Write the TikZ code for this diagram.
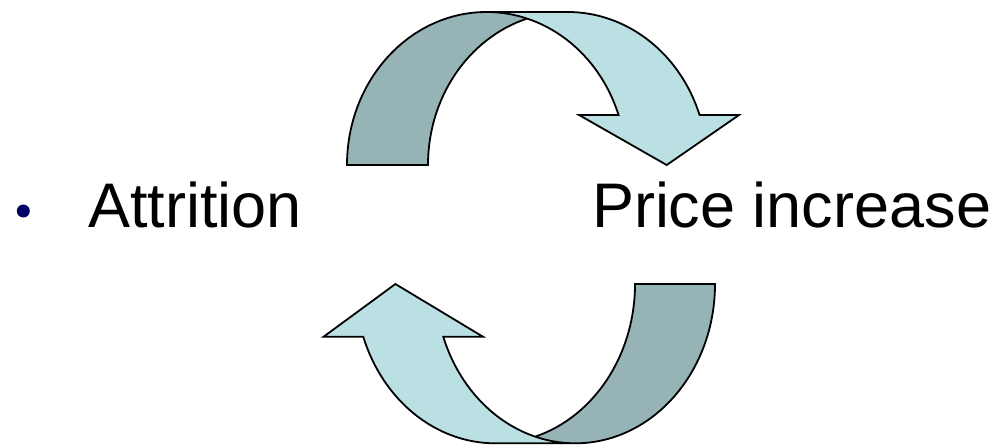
\documentclass[tikz,border=0pt]{standalone}
\usepackage{fontspec}
\setmainfont{Liberation Sans}
\definecolor{bandlight}{RGB}{187,224,227}
\definecolor{banddark}{RGB}{150,179,182}
\definecolor{bulletnavy}{RGB}{0,0,102}

% Curved block arrow: two equal ellipses shifted sideways by the band width.
% #1 scope options, #2 ellipse x radius, #3 band width, #4 head width,
% #5 height, #6 head length
\newcommand{\drawbentarrow}[6]{%
  \begin{scope}[#1]
    \pgfmathsetmacro{\ArWR}{#2}
    \pgfmathsetmacro{\ArTh}{#3}
    \pgfmathsetmacro{\ArAw}{#4}
    \pgfmathsetmacro{\ArH}{#5}
    \pgfmathsetmacro{\ArAh}{#6}
    \pgfmathsetmacro{\ArTa}{asin(\ArAh/\ArH)}
    \pgfmathsetmacro{\ArTc}{acos(\ArTh/(2*\ArWR))}
    \pgfmathsetmacro{\ArDx}{\ArWR*cos(\ArTa)}
    \pgfmathsetmacro{\ArXfive}{\ArWR+\ArDx}
    \pgfmathsetmacro{\ArXseven}{\ArWR+\ArTh+\ArDx}
    \pgfmathsetmacro{\ArDh}{(\ArAw-\ArTh)/2}
    \pgfmathsetmacro{\ArXfour}{\ArXfive-\ArDh}
    \pgfmathsetmacro{\ArXeight}{\ArXseven+\ArDh}
    \pgfmathsetmacro{\ArXsix}{2*\ArWR+\ArTh/2}
    \pgfmathsetmacro{\ArXc}{\ArWR+\ArTh/2}
    \pgfmathsetmacro{\ArYc}{\ArH*sin(\ArTc)}
    % front band with the head
    \fill[bandlight] (\ArXsix,0) -- (\ArXfour,\ArAh) -- (\ArXfive,\ArAh)
      arc[start angle=\ArTa, end angle=90, x radius=\ArWR, y radius=\ArH]
      -- (\ArWR+\ArTh,\ArH)
      arc[start angle=90, end angle=\ArTa, x radius=\ArWR, y radius=\ArH]
      -- (\ArXeight,\ArAh) -- cycle;
    % back band (foot)
    \fill[banddark] (\ArXc,\ArYc)
      arc[start angle=180-\ArTc, end angle=180, x radius=\ArWR, y radius=\ArH]
      -- (0,0)
      arc[start angle=180, end angle=\ArTc, x radius=\ArWR, y radius=\ArH]
      -- cycle;
    % outline
    \draw[outline] (\ArXc,\ArYc)
      arc[start angle=180-\ArTc, end angle=180, x radius=\ArWR, y radius=\ArH]
      -- (0,0)
      arc[start angle=180, end angle=\ArTa, x radius=\ArWR, y radius=\ArH]
      -- (\ArXfour,\ArAh) -- (\ArXsix,0) -- (\ArXeight,\ArAh) -- (\ArXseven,\ArAh)
      arc[start angle=\ArTa, end angle=90, x radius=\ArWR, y radius=\ArH]
      -- (\ArWR,\ArH);
  \end{scope}}

\begin{document}
\begin{tikzpicture}[x=1pt, y=1pt,
  outline/.style={draw=black, line width=1.8pt, line join=miter},
  lbl/.style={inner sep=0pt, outer sep=0pt, font=\fontsize{63}{75}\selectfont}]
  \useasboundingbox (0,0) rectangle (1000,445);

  % upper arrow, pointing down to the right
  \drawbentarrow{shift={(347,280)}}{139.6}{81}{160}{153}{50}
  % lower arrow, pointing up to the left
  \drawbentarrow{shift={(715,161)}, rotate=180}{139.8}{80}{159.3}{159.3}{52.7}

  \node[circle, fill=bulletnavy, inner sep=0pt, minimum size=13pt] (bullet) at (23.3,234) {};
  \node[lbl, anchor=base west] (attrition) at (88,218) {Attrition};
  \node[lbl, anchor=base west] (price) at (592,218) {Price increase};
\end{tikzpicture}
\end{document}
